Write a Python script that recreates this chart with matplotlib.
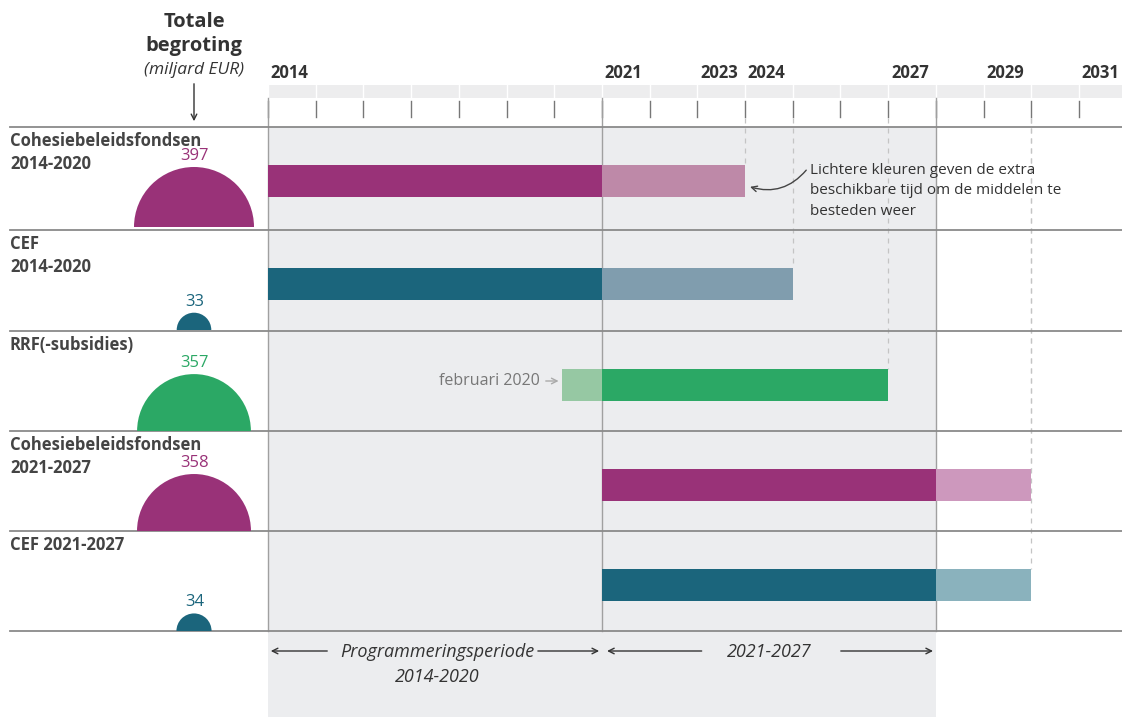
import matplotlib.pyplot as plt
import matplotlib
from matplotlib.patches import Wedge, Rectangle, FancyArrowPatch
import numpy as np

matplotlib.rcParams['font.family'] = ['Open Sans', 'DejaVu Sans']

# data
fondsen = [['Cohesiebeleidsfondsen', '2014-2020'], ['CEF', '2014-2020'], ['RRF(-subsidies)'],
           ['Cohesiebeleidsfondsen', '2021-2027'], ['CEF 2021-2027']]
begroting = [397, 33, 357, 358, 34]
start_licht = [None, None, 2020.17, None, None]   # RRF vanaf februari 2020
start = [2014, 2014, 2021, 2021, 2021]
einde = [2021, 2021, 2027, 2028, 2028]
einde_extra = [2024, 2025, None, 2030, 2030]
kleur = ['#993278', '#1b657c', '#2ba865', '#993278', '#1b657c']
kleur_licht = ['#be89a8', '#809dae', '#96c8a3', '#cd98bd', '#8ab2bd']
jaar_labels = [2014, 2021, 2023, 2024, 2027, 2029, 2031]

W, H = 1122, 717
PX_JAAR = 47.7
X0 = 268  # pixel van 2014

fig = plt.figure(figsize=(W / 100, H / 100), dpi=100)
ax = fig.add_axes([0, 0, 1, 1])
ax.set_xlim(2014 - X0 / PX_JAAR, 2014 + (W - X0) / PX_JAAR)
ax.set_ylim(H, 0)
ax.axis('off')

# linker paneel in pixels (voor ronde halve cirkels)
ax2 = fig.add_axes([0, 0, 1, 1])
ax2.set_xlim(0, W)
ax2.set_ylim(H, 0)
ax2.axis('off')
ax2.patch.set_alpha(0)

grijs = '#ecedef'
rij_top = [127, 230, 331, 431, 531]
rij_h = 100

# achtergrond programmeringsperiode
ax.add_patch(Rectangle((2014, 127), 14, H - 127, color=grijs, zorder=0, lw=0))
# strook bovenaan
ax.add_patch(Rectangle((2014, 85), 2031.9 - 2014, 13, color='#ededee', zorder=0, lw=0))
for j in range(2014, 2032):
    ax.plot([j, j], [85, 98], color='white', lw=1, zorder=1)
    ax.plot([j, j], [101, 117], color='#777777', lw=1, zorder=1)

for j in jaar_labels:
    ax.text(j + 0.06, 73, str(j), fontsize=12, fontweight='bold', color='#333333',
            ha='left', va='center')

# verticale lijnen
for j in (2014, 2021, 2028):
    ax.plot([j, j], [98, 631], color='#a0a0a0', lw=1, zorder=2)

# horizontale scheidingslijnen
for y in rij_top + [631]:
    ax.plot([2014 - (X0 - 10) / PX_JAAR, 2031.9], [y, y], color='#8a8a8a', lw=1.3, zorder=3)

bar_h = 32
for i in range(len(fondsen)):
    yc = rij_top[i] + 54
    ax.barh(yc, einde[i] - start[i], left=start[i], height=bar_h, color=kleur[i], zorder=4)
    if start_licht[i] is not None:
        ax.barh(yc, start[i] - start_licht[i], left=start_licht[i], height=bar_h,
                color=kleur_licht[i], zorder=4)
    eind_stippel = einde[i]
    if einde_extra[i] is not None:
        ax.barh(yc, einde_extra[i] - einde[i], left=einde[i], height=bar_h,
                color=kleur_licht[i], zorder=4)
        eind_stippel = einde_extra[i]
    if eind_stippel not in (2021, 2028):
        ax.plot([eind_stippel, eind_stippel], [118, yc - bar_h / 2], color='#c4c4c4',
                lw=0.9, ls=(0, (4, 4)), zorder=2)

    # halve cirkel
    r = 60 * np.sqrt(begroting[i] / 397)
    ax2.add_patch(Wedge((194, rij_top[i] + rij_h), r, 180, 360, color=kleur[i], lw=0, zorder=4))
    ax2.text(195, rij_top[i] + rij_h - r - 11, str(begroting[i]), color=kleur[i],
             fontsize=12, ha='center', va='center')
    # naam
    for k, regel in enumerate(fondsen[i]):
        ax2.text(10, rij_top[i] + 14 + 23 * k, regel, fontsize=12, fontweight='bold',
                 color='#444444', ha='left', va='center')

# kop linker kolom
ax2.text(194, 22, 'Totale', fontsize=14.5, fontweight='bold', color='#333333',
         ha='center', va='center')
ax2.text(194, 46, 'begroting', fontsize=14.5, fontweight='bold', color='#333333',
         ha='center', va='center')
ax2.text(194, 70, '(miljard EUR)', fontsize=12.5, style='italic', color='#333333',
         ha='center', va='center')
ax2.annotate('', xy=(194, 124), xytext=(194, 81),
             arrowprops=dict(arrowstyle='->', color='#333333', lw=1))

# toelichting
ax.text(2014 + (810 - X0) / PX_JAAR, 191,
        'Lichtere kleuren geven de extra\nbeschikbare tijd om de middelen te\nbesteden weer',
        fontsize=11, color='#333333', ha='left', va='center', linespacing=1.5, zorder=6)
ax.add_patch(FancyArrowPatch((2014 + (808 - X0) / PX_JAAR, 168), (einde_extra[0] + 0.05, 186),
                             connectionstyle='arc3,rad=-0.35', arrowstyle='->',
                             mutation_scale=10, color='#444444', lw=1, zorder=6))

ax.text(2014 + (540 - X0) / PX_JAAR, 381, 'februari 2020', fontsize=11.5, color='#777777',
        ha='right', va='center')
ax.annotate('', xy=(start_licht[2] - 0.02, 381), xytext=(2014 + (543 - X0) / PX_JAAR, 381),
            arrowprops=dict(arrowstyle='->', color='#aaaaaa', lw=1))

# programmeringsperiodes onderaan
ya = 651
pijl = dict(arrowstyle='->', color='#333333', lw=1)
ax.annotate('', xy=(2014, ya), xytext=(2015.3, ya), arrowprops=pijl)
ax.annotate('', xy=(2021, ya), xytext=(2019.6, ya), arrowprops=pijl)
ax.text(2017.55, 652, 'Programmeringsperiode', fontsize=13, style='italic',
        color='#333333', ha='center', va='center')
ax.text(2017.55, 677, '2014-2020', fontsize=13, style='italic',
        color='#333333', ha='center', va='center')
ax.annotate('', xy=(2021.05, ya), xytext=(2023.15, ya), arrowprops=pijl)
ax.annotate('', xy=(2028, ya), xytext=(2025.95, ya), arrowprops=pijl)
ax.text(2024.5, 652, '2021-2027', fontsize=13, style='italic', color='#333333',
        ha='center', va='center')

plt.savefig('out.png', dpi=100)
